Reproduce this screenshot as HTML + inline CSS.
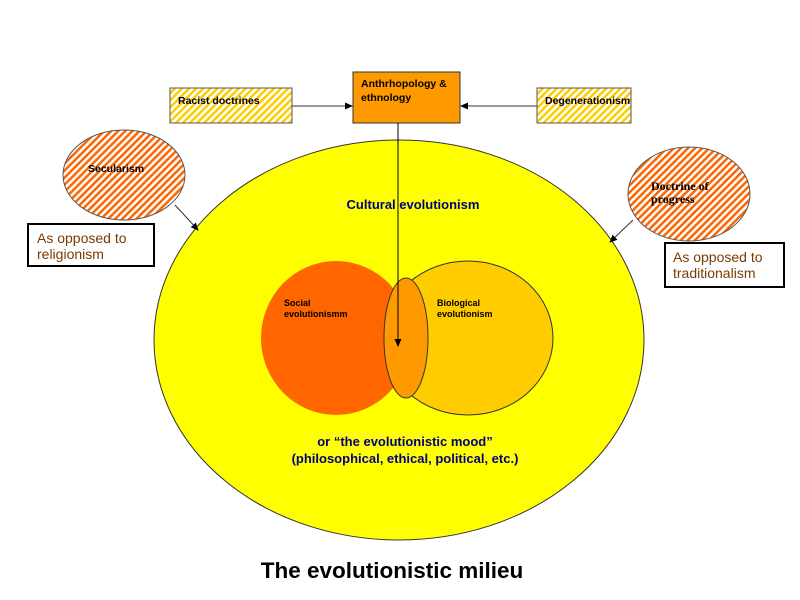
<!DOCTYPE html>
<html><head><meta charset="utf-8"><style>
body{margin:0;background:#fff}
svg{display:block;font-family:"Liberation Sans",sans-serif}
</style></head><body>
<svg width="800" height="600" viewBox="0 0 800 600">
<defs>
<pattern id="ys" width="5" height="5" patternUnits="userSpaceOnUse" patternTransform="rotate(45)">
<rect width="5" height="5" fill="#fff"/><rect width="2.5" height="5" fill="#FFCC00"/></pattern>
<pattern id="os" width="5" height="5" patternUnits="userSpaceOnUse" patternTransform="rotate(45)">
<rect width="5" height="5" fill="#fff"/><rect width="2.5" height="5" fill="#FF6600"/></pattern>
<marker id="ar" markerWidth="8" markerHeight="8" refX="7" refY="4" orient="auto" markerUnits="userSpaceOnUse">
<path d="M0,0.5 L8,4 L0,7.5z" fill="#000"/></marker>
</defs>
<ellipse cx="399" cy="340" rx="245" ry="200" fill="#FFFF00" stroke="#333" stroke-width="1"/>
<ellipse cx="468" cy="338" rx="85" ry="77" fill="#FFCC00" stroke="#333" stroke-width="1"/>
<ellipse cx="336" cy="338" rx="75" ry="77" fill="#FF6600"/>
<ellipse cx="406" cy="338" rx="22" ry="60" fill="#FF9900" stroke="#333" stroke-width="1"/>
<rect x="170" y="88" width="122" height="35" fill="url(#ys)" stroke="#555"/>
<rect x="353" y="72" width="107" height="51" fill="#FF9900" stroke="#333"/>
<rect x="537" y="88" width="94" height="35" fill="url(#ys)" stroke="#555"/>
<line x1="292" y1="106" x2="352" y2="106" stroke="#333" marker-end="url(#ar)"/>
<line x1="537" y1="106" x2="461" y2="106" stroke="#333" marker-end="url(#ar)"/>
<line x1="398" y1="123" x2="398" y2="346" stroke="#000" marker-end="url(#ar)"/>
<ellipse cx="124" cy="175" rx="61" ry="45" fill="url(#os)" stroke="#555"/>
<ellipse cx="689" cy="194" rx="61" ry="47" fill="url(#os)" stroke="#555"/>
<line x1="175" y1="205" x2="198" y2="230" stroke="#333" marker-end="url(#ar)"/>
<line x1="633" y1="220" x2="610" y2="242" stroke="#333" marker-end="url(#ar)"/>
<rect x="28" y="224" width="126" height="42" fill="#fff" stroke="#000" stroke-width="2"/>
<rect x="665" y="243" width="119" height="44" fill="#fff" stroke="#000" stroke-width="2"/>
<g font-size="10.5" font-weight="bold" fill="#000">
<text x="178" y="104">Racist doctrines</text>
<text x="361" y="87">Anthrhopology  &amp;</text>
<text x="361" y="101">ethnology</text>
<text x="545" y="104">Degenerationism</text>
<text x="88" y="172">Secularism</text>
<text x="651" y="190" font-family="Liberation Serif,serif" font-size="12">Doctrine of</text>
<text x="651" y="203" font-family="Liberation Serif,serif" font-size="12">progress</text>
<text x="284" y="306" font-size="9">Social</text>
<text x="284" y="317" font-size="9">evolutionismm</text>
<text x="437" y="306" font-size="9">Biological</text>
<text x="437" y="317" font-size="9">evolutionism</text>
</g>
<g font-size="14" fill="#7a3a00">
<text x="37" y="243">As opposed to</text>
<text x="37" y="259">religionism</text>
<text x="673" y="262">As opposed to</text>
<text x="673" y="278">traditionalism</text>
</g>
<g font-size="13" font-weight="bold" fill="#000080" text-anchor="middle">
<text x="413" y="209">Cultural  evolutionism</text>
<text x="405" y="446">or “the evolutionistic mood”</text>
<text x="405" y="463">(philosophical, ethical, political, etc.)</text>
</g>
<text x="392" y="578" font-size="22.5" font-weight="bold" text-anchor="middle">The evolutionistic milieu</text>
</svg>
</body></html>
